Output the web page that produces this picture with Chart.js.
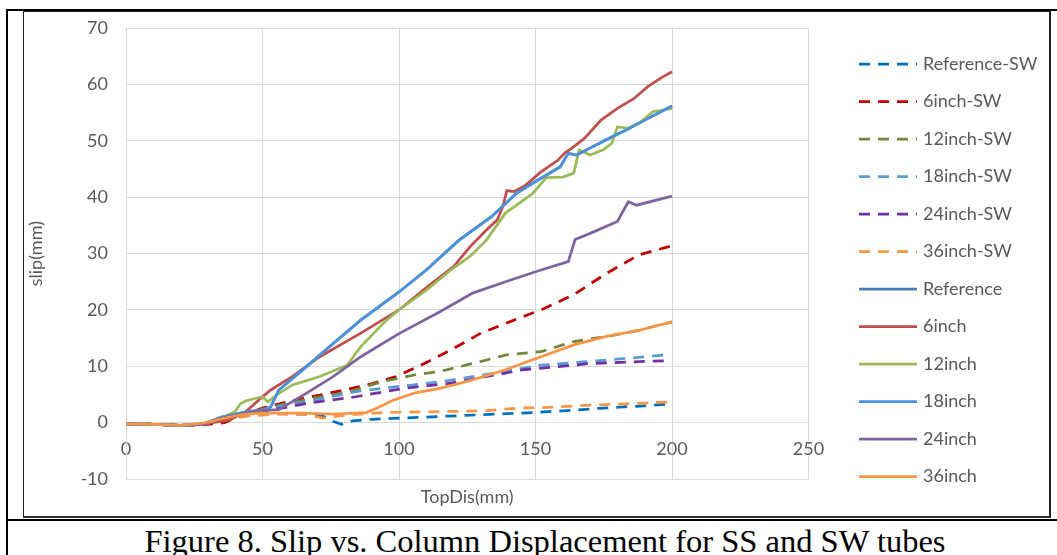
<!DOCTYPE html>
<html>
<head>
  <title>Slip vs. Column Displacement</title>
  <script src="https://cdn.jsdelivr.net/npm/chart.js"></script>
  <style>
    body { margin: 0; background: #fff; width: 1057px; height: 555px; overflow: hidden; position: relative; }
    .rule { position: absolute; background: #000; }
    #box { position: absolute; left: 23px; top: 11px; width: 1025px; height: 504px;
           border-left: 1px solid #222; border-top: 1px solid #222;
           border-right: 2px solid #222; border-bottom: 2px solid #333; }
    #wrap { position: absolute; left: 24px; top: 13px; width: 1025px; height: 503px; }
    #caption { position: absolute; left: 0; width: 1090px; top: 525px; text-align: center;
               font-family: "Liberation Serif", "Times New Roman", serif; font-size: 32.5px; line-height: 32.5px; color: #000; }
  </style>
</head>
<body>
  <div class="rule" style="left:6px; top:9px; width:1051px; height:2px;"></div>
  <div class="rule" style="left:6px; top:9px; width:2px; height:546px;"></div>
  <div id="box"></div>
  <div class="rule" style="left:6px; top:519px; width:1051px; height:2px;"></div>
  <div id="wrap"><canvas id="lineChart" width="1025" height="503"></canvas></div>
  <div id="caption">Figure 8. Slip vs. Column Displacement for SS and SW tubes</div>

  <script>
    const xTicks = [0, 50, 100, 150, 200, 250];
    const yTicks = [-10, 0, 10, 20, 30, 40, 50, 60, 70];

    // SW series (dashed)
    const refSwX = [0, 10, 20, 27, 35, 45, 55, 65, 72, 76, 79, 83, 90, 100, 115, 130, 145, 160, 175, 190, 200];
    const refSwY = [-0.2, -0.3, -0.5, -0.3, 0.5, 1.3, 1.6, 1.5, 1.2, 0.2, -0.3, 0.3, 0.6, 0.8, 1.1, 1.4, 1.7, 2.1, 2.6, 3.0, 3.3];
    const in6SwX = [0, 10, 20, 28, 36, 42, 50, 60, 70, 80, 90, 99, 108, 117, 125, 130, 140, 148, 152, 164, 176, 188, 200];
    const in6SwY = [-0.2, -0.3, -0.5, -0.4, 0.0, 1.2, 2.6, 3.8, 4.8, 5.8, 6.9, 8.2, 10.2, 12.4, 14.5, 15.9, 17.8, 19.3, 20.0, 22.7, 26.5, 29.8, 31.4];
    const in12SwX = [0, 10, 20, 28, 35, 45, 55, 65, 82, 94, 106, 115, 127, 139, 152, 164, 176, 188, 200];
    const in12SwY = [-0.2, -0.3, -0.5, -0.3, 0.5, 1.8, 3.0, 4.0, 5.5, 7.3, 8.5, 9.1, 10.5, 12.0, 12.6, 14.4, 15.3, 16.4, 17.9];
    const in18SwX = [0, 10, 20, 28, 35, 45, 55, 66, 84, 94, 116, 130, 152, 176, 197];
    const in18SwY = [-0.2, -0.3, -0.5, -0.3, 0.6, 1.8, 2.8, 3.7, 5.5, 6.1, 7.3, 8.4, 10.2, 11.1, 12.0];
    const in24SwX = [0, 10, 20, 28, 35, 45, 55, 66, 84, 102, 119, 145, 170, 198];
    const in24SwY = [-0.2, -0.3, -0.5, -0.3, 0.5, 1.5, 2.4, 3.4, 4.6, 6.1, 7.0, 9.35, 10.5, 11.0];
    const in36SwX = [0, 10, 20, 28, 35, 45, 55, 62, 67, 72, 80, 94, 119, 130, 145, 154, 170, 200];
    const in36SwY = [-0.2, -0.3, -0.5, -0.3, 0.4, 1.2, 1.5, 1.5, 1.4, 0.8, 1.3, 1.8, 2.0, 2.1, 2.6, 2.7, 3.1, 3.7];

    // SS series (solid)
    const refX = [0, 10, 20, 28, 35, 45, 50, 53, 56, 66, 76, 86, 100, 110, 122, 134, 143, 150, 159, 162, 165, 171, 177, 183, 190, 200];
    const refY = [-0.2, -0.3, -0.5, -0.3, 1.0, 2.0, 2.2, 2.8, 5.8, 9.9, 14.1, 18.2, 23.2, 27.1, 32.4, 36.6, 40.7, 42.8, 45.4, 47.8, 47.5, 49.0, 50.5, 51.9, 53.7, 56.2];
    const in6X = [0, 10, 20, 28, 34, 38, 44, 50, 53, 61, 71, 86, 100, 110, 120, 126, 132, 136, 138, 139.5, 142, 146, 152, 158, 161, 163, 168, 174, 180, 186, 191, 196, 200];
    const in6Y = [-0.2, -0.3, -0.5, -0.3, 0.2, 0.5, 2.0, 4.6, 5.8, 8.2, 11.7, 15.9, 20.0, 24.0, 27.7, 31.2, 34.2, 36.0, 38.3, 41.2, 41.0, 42.0, 44.5, 46.5, 48.0, 48.6, 50.5, 53.7, 55.8, 57.5, 59.6, 61.2, 62.3];
    const in12X = [0, 10, 20, 28, 35, 40, 42, 44, 50, 52, 55, 61, 71, 81, 86, 95, 100, 110, 119, 126, 132, 139, 149, 154, 160, 164, 166, 170, 175, 178, 180, 184, 188, 193, 200];
    const in12Y = [-0.2, -0.3, -0.5, -0.3, 0.8, 2.0, 3.4, 3.9, 4.6, 3.7, 4.9, 6.7, 8.2, 10.2, 13.5, 18.0, 20.0, 23.5, 27.1, 29.5, 32.4, 37.2, 40.7, 43.5, 43.6, 44.3, 48.4, 47.5, 48.5, 49.6, 52.5, 52.3, 53.2, 55.2, 55.8];
    const in18X = [0, 10, 20, 28, 35, 45, 50, 53, 56, 66, 76, 86, 100, 110, 122, 134, 143, 150, 159, 162, 165, 171, 177, 183, 190, 200];
    const in18Y = [-0.2, -0.3, -0.5, -0.3, 1.0, 2.0, 2.2, 2.8, 5.8, 9.9, 14.1, 18.2, 23.2, 27.1, 32.4, 36.6, 40.7, 42.8, 45.4, 47.8, 47.5, 49.0, 50.5, 51.9, 53.7, 56.2];
    const in24X = [0, 10, 20, 28, 35, 45, 50, 56, 66, 76, 86, 100, 115, 127, 139, 152, 162, 164.5, 170, 180, 184, 187, 200];
    const in24Y = [-0.2, -0.3, -0.5, -0.3, 0.8, 1.8, 2.2, 2.3, 5.2, 8.2, 11.7, 15.8, 19.7, 23.0, 25.0, 27.1, 28.6, 32.5, 33.6, 35.7, 39.2, 38.6, 40.2];
    const in36X = [0, 10, 20, 28, 35, 42, 49, 64, 76, 88, 92, 98, 106, 115, 127, 139, 152, 164, 176, 188, 200];
    const in36Y = [-0.2, -0.3, -0.5, -0.1, 0.7, 1.4, 1.7, 1.7, 1.5, 1.8, 2.6, 4.0, 5.3, 6.1, 7.6, 9.4, 11.7, 13.8, 15.3, 16.4, 17.9];

    const pts = (xs, ys) => xs.map((x, i) => ({ x: x, y: ys[i] }));
    const dash = [11, 8];

    function series(label, xs, ys, color, dashed) {
      return {
        label: label,
        data: pts(xs, ys),
        borderColor: color,
        backgroundColor: color,
        borderWidth: 2.75,
        borderDash: dashed ? dash : [],
        showLine: true,
        pointRadius: 0,
        pointHoverRadius: 0,
        tension: 0,
        fill: false
      };
    }

    const datasets = [
      series('Reference-SW', refSwX, refSwY, '#0070C0', true),
      series('6inch-SW', in6SwX, in6SwY, '#C00000', true),
      series('12inch-SW', in12SwX, in12SwY, '#70883A', true),
      series('18inch-SW', in18SwX, in18SwY, '#5B9BD5', true),
      series('24inch-SW', in24SwX, in24SwY, '#7030A0', true),
      series('36inch-SW', in36SwX, in36SwY, '#F79646', true),
      series('Reference', refX, refY, '#4A7EBB', false),
      series('6inch', in6X, in6Y, '#C0504D', false),
      series('12inch', in12X, in12Y, '#9BBB59', false),
      series('18inch', in18X, in18Y, '#4B92DB', false),
      series('24inch', in24X, in24Y, '#8064A2', false),
      series('36inch', in36X, in36Y, '#F79646', false)
    ];
    // Excel draws later series on top
    datasets.forEach((d, i) => { d.order = datasets.length - i; });

    const textGrey = '#595959';
    const gridGrey = '#d9d9d9';
    const font = { family: 'Lato', size: 18 };

    // legend column drawn at the right, like the Excel one
    const sideLegend = {
      id: 'sideLegend',
      afterDraw(chart) {
        const ctx = chart.ctx;
        ctx.save();
        ctx.font = '18px Lato';
        ctx.textBaseline = 'middle';
        ctx.textAlign = 'left';
        chart.data.datasets.forEach((ds, i) => {
          const y = 51 + i * 37.5;
          ctx.beginPath();
          ctx.setLineDash(ds.borderDash);
          ctx.strokeStyle = ds.borderColor;
          ctx.lineWidth = ds.borderWidth;
          ctx.moveTo(835, y);
          ctx.lineTo(893, y);
          ctx.stroke();
          ctx.fillStyle = textGrey;
          ctx.fillText(ds.label, 899, y);
        });
        ctx.restore();
      }
    };

    new Chart(document.getElementById('lineChart').getContext('2d'), {
      type: 'scatter',
      data: { datasets: datasets },
      plugins: [sideLegend],
      options: {
        responsive: false,
        animation: false,
        layout: { padding: { left: 0, right: 240.5, top: 15.3, bottom: 0 } },
        plugins: { legend: { display: false }, tooltip: { enabled: false } },
        scales: {
          x: {
            type: 'linear',
            position: { y: 0 },
            min: 0,
            max: 250,
            afterBuildTicks: s => { s.ticks = xTicks.map(v => ({ value: v })); },
            afterFit: s => { s.height = 0; },
            grid: { color: gridGrey, lineWidth: 1, drawTicks: false },
            border: { color: gridGrey },
            ticks: { color: textGrey, font: font, padding: 16 }
          },
          x2: {
            type: 'linear',
            position: 'bottom',
            min: 0,
            max: 250,
            afterFit: s => { s.height = 37; },
            grid: { display: false },
            border: { display: false },
            ticks: { display: false },
            title: { display: true, text: 'TopDis(mm)', color: textGrey, font: font, padding: { top: 0, bottom: 7.6 } }
          },
          y: {
            type: 'linear',
            position: 'left',
            min: -10,
            max: 70,
            afterBuildTicks: s => { s.ticks = yTicks.map(v => ({ value: v })); },
            afterFit: s => { s.width = 102; s.paddingTop = 0; s.paddingBottom = 0; },
            grid: { color: gridGrey, lineWidth: 1, drawTicks: false },
            border: { color: gridGrey },
            ticks: { color: textGrey, font: font, padding: 18 },
            title: { display: true, text: 'slip(mm)', color: textGrey, font: font, padding: { top: 1.6, bottom: 0 } }
          }
        }
      }
    });
  </script>
</body>
</html>
